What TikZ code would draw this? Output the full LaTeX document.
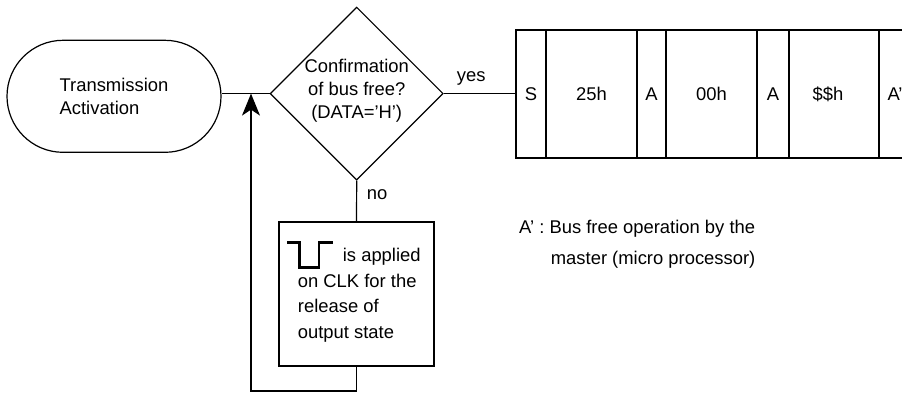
\documentclass[tikz,border=0pt]{standalone}
\usepackage{fontspec}
\setmainfont{Liberation Sans}[Ligatures=ResetAll]
\usetikzlibrary{shapes.geometric,arrows.meta,calc}
\begin{document}
\begin{tikzpicture}[x=1pt,y=-1pt,
  every node/.style={font=\fontsize{18.4}{22.6}\selectfont},
  ln/.style={line width=1.2pt, black},
  terminal/.style={ln, draw, rectangle, rounded corners=56pt, minimum width=214pt, minimum height=112pt, inner sep=0pt, align=left},
  decision/.style={ln, draw, diamond, minimum width=173pt, minimum height=173pt, inner sep=0pt},
  procbox/.style={ln, draw, rectangle, minimum width=155pt, minimum height=144pt, inner sep=0pt},
  cell/.style={ln, draw, rectangle, minimum height=128pt, inner sep=0pt},
  txt/.style={inner sep=0pt},
  pulse/.style={line width=2.6pt, line join=miter, line cap=butt}
]
\useasboundingbox (0,0) rectangle (902,392);
\clip (0,0) rectangle (902,392);
\fill[white] (0,0) rectangle (902,392);

% terminal
\node[terminal] (start) at (114,96.3) {Transmission\\Activation};

% decision
\node[decision] (dec) at (356.7,93.6) {};
\node[txt, align=center, font=\fontsize{18.4}{23}\selectfont] (dectext) at (356.7,91) {Confirmation\\of bus free?\\(DATA='H')};

% process box
\node[procbox] (box) at (356.5,294) {};
\node[txt, align=left, anchor=west, font=\fontsize{18.4}{25.5}\selectfont] (boxtext) at (297.7,295.1)
  {\hspace*{45pt}is applied\\on CLK for the\\release of\\output state};
\draw[pulse] (287.3,242.7) -- (299.3,242.7) -- (299.3,267.3) -- (319,267.3) -- (319,242.7) -- (332.7,242.7);

% frame cells
\node[cell, minimum width=30pt] (c1) at (531,94) {S};
\node[cell, minimum width=91pt] (c2) at (591.5,94) {25h};
\node[cell, minimum width=29pt] (c3) at (651.5,94) {A};
\node[cell, minimum width=91pt] (c4) at (711.5,94) {00h};
\node[cell, minimum width=32pt] (c5) at (773,94) {A};
\node[cell, minimum width=90pt] (c6) at (834,94) {\$\$h\kern12pt};
\node[cell, minimum width=32pt] (c7) at (895,94) {A’};

% labels
\node[txt, anchor=base west] (yes) at (456.7,81) {yes};
\node[txt, anchor=base west] (no) at (366.7,199) {no};

% note
\node[txt, align=left, anchor=west, font=\fontsize{18.4}{31}\selectfont] (note) at (519,244.5)
  {A’ : Bus free operation by the\\\hspace*{31.7pt}master (micro processor)};

% connectors
\coordinate (j) at (251,93.6);
\coordinate (loopL) at (251,391);
\draw[ln] (dec.west) -- (dec.west -| start.east);
\draw[ln] (dec.east) -- (dec.east -| c1.west);
\draw[ln] (dec.south) -- (box.north);
\draw[ln, -{Stealth[length=22pt, width=18pt, inset=6pt]}] (box.south) |- (loopL) -- (j);
\end{tikzpicture}
\end{document}
